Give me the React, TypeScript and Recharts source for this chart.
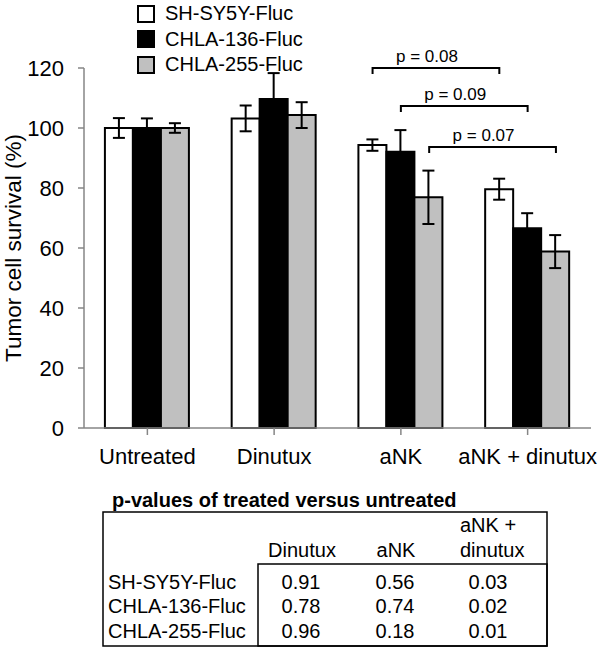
import { Bar, BarChart, ErrorBar, Legend, ReferenceLine, XAxis, YAxis } from "recharts";

const categories = ["Untreated", "Dinutux", "aNK", "aNK + dinutux"];
const seriesNames = ["SH-SY5Y-Fluc", "CHLA-136-Fluc", "CHLA-255-Fluc"];
const seriesFills = ["#ffffff", "#000000", "#c0c0c0"];

const shsy5y = [100, 103.2, 94.3, 79.6];
const shsy5yErr = [3.3, 4.3, 1.9, 3.5];
const chla136 = [100, 109.7, 92.1, 66.6];
const chla136Err = [3.2, 8.6, 7.2, 5];
const chla255 = [100, 104.3, 76.9, 58.8];
const chla255Err = [1.6, 4.3, 8.9, 5.5];

const yTicks = [0, 20, 40, 60, 80, 100, 120];

// significance brackets: from one group to another, same series
const brackets = [
  { from: 2, to: 3, series: 0, y: 120, label: "p = 0.08" },
  { from: 2, to: 3, series: 1, y: 107.3, label: "p = 0.09" },
  { from: 2, to: 3, series: 2, y: 93.7, label: "p = 0.07" },
];

const tableTitle = "p-values of treated versus untreated";
const tableColumns = ["Dinutux", "aNK", "aNK + dinutux"];
const tableRows = ["SH-SY5Y-Fluc", "CHLA-136-Fluc", "CHLA-255-Fluc"];
const pValues = [
  ["0.91", "0.56", "0.03"],
  ["0.78", "0.74", "0.02"],
  ["0.96", "0.18", "0.01"],
];

const data = categories.map((category, i) => ({
  category,
  s0: shsy5y[i],
  e0: shsy5yErr[i],
  s1: chla136[i],
  e1: chla136Err[i],
  s2: chla255[i],
  e2: chla255Err[i],
}));

const FONT = "'Liberation Sans', Arial, sans-serif";
const AXIS = "#868686";
const CAT_GAP = 0.165;
const barFrac = (1 - 2 * CAT_GAP) / 3;

function Bracket({ x1, y1, x2, bracket }: any) {
  // x1/x2 are the category centres; shift to the matching bar centre
  const band = (x2 - x1) / (bracket.to - bracket.from);
  const off = (bracket.series - 1) * barFrac * band;
  const a = x1 + off;
  const b = x2 + off;
  return (
    <g>
      <path d={`M${a},${y1 + 6}V${y1}H${b}V${y1 + 6}`} fill="none" stroke="#000" strokeWidth={2} />
      <text x={(a + b) / 2 - 9} y={y1 - 6} textAnchor="middle" fontSize={17} fontFamily={FONT} fill="#000">
        {bracket.label}
      </text>
    </g>
  );
}

function LegendBox({ payload }: any) {
  const items = [...(payload || [])].sort(
    (a: any, b: any) => seriesNames.indexOf(a.value) - seriesNames.indexOf(b.value)
  );
  return (
    <div style={{ fontFamily: FONT, fontSize: 20, color: "#000" }}>
      {items.map((p: any) => (
        <div key={p.value} style={{ display: "flex", alignItems: "center", height: 25.5 }}>
          <span
            style={{
              display: "inline-block",
              width: 14,
              height: 14,
              background: p.color,
              border: "2px solid #000",
              marginRight: 10,
            }}
          />
          <span>{p.value}</span>
        </div>
      ))}
    </div>
  );
}

function PTable() {
  const colX = [301, 395, 488];
  const rowY = [119, 143, 168];
  return (
    <svg width={600} height={177} style={{ position: "absolute", left: 0, top: 470 }}>
      <g fontFamily={FONT} fill="#000">
        <text x={112} y={37} fontSize={20} fontWeight="bold">{tableTitle}</text>
        <rect x={103} y={42} width={444} height={134} fill="none" stroke="#000" strokeWidth={1.5} />
        <rect x={258} y={94} width={289} height={82} fill="none" stroke="#000" strokeWidth={1.5} />
        <g fontSize={20}>
          <text x={302} y={87} textAnchor="middle">{tableColumns[0]}</text>
          <text x={396} y={87} textAnchor="middle">{tableColumns[1]}</text>
          <text x={460} y={62}>{tableColumns[2].replace(" dinutux", "")}</text>
          <text x={460} y={87}>{tableColumns[2].split(" + ")[1]}</text>
          {tableRows.map((r, i) => (
            <g key={r}>
              <text x={108} y={rowY[i]}>{r}</text>
              {pValues[i].map((v, j) => (
                <text key={j} x={colX[j]} y={rowY[i]} textAnchor="middle">
                  {v}
                </text>
              ))}
            </g>
          ))}
        </g>
      </g>
    </svg>
  );
}

export default function App() {
  return (
    <div style={{ position: "absolute", left: 0, top: 0, width: 600, height: 647, background: "#fff" }}>
      <BarChart
        width={600}
        height={470}
        data={data}
        margin={{ top: 68, right: 9, bottom: 0, left: 0 }}
        barCategoryGap={`${CAT_GAP * 100}%`}
        barGap={0}
        style={{ fontFamily: FONT }}
      >
        <XAxis
          dataKey="category"
          height={42}
          tickSize={7}
          tickMargin={13}
          tick={{ fontSize: 22, fill: "#000" }}
          tickLine={{ stroke: AXIS, strokeWidth: 1.5 }}
          axisLine={{ stroke: AXIS, strokeWidth: 1.5 }}
          interval={0}
        />
        <YAxis
          domain={[0, 120]}
          ticks={yTicks}
          width={84}
          tickSize={6}
          tickMargin={14}
          tick={{ fontSize: 22, fill: "#000" }}
          tickLine={{ stroke: AXIS, strokeWidth: 1.5 }}
          axisLine={{ stroke: AXIS, strokeWidth: 1.5 }}
          label={({ viewBox }: any) => (
            <text
              x={0}
              y={0}
              transform={`translate(13, ${viewBox.y + viewBox.height / 2}) rotate(-90)`}
              textAnchor="middle"
              dominantBaseline="central"
              fontSize={22.5}
              fontFamily={FONT}
              fill="#000"
            >
              Tumor cell survival (%)
            </text>
          )}
        />
        <Legend
          layout="vertical"
          align="center"
          verticalAlign="middle"
          content={<LegendBox />}
          wrapperStyle={{ left: 137, top: 1, width: "auto", height: "auto" }}
        />
        {seriesNames.map((name, s) => (
          <Bar
            key={name}
            dataKey={`s${s}`}
            name={name}
            fill={seriesFills[s]}
            stroke="#000"
            strokeWidth={2}
            isAnimationActive={false}
          >
            <ErrorBar dataKey={`e${s}`} width={6} stroke="#000" strokeWidth={2} />
          </Bar>
        ))}
        {brackets.map((b, i) => (
          <ReferenceLine
            key={i}
            segment={[
              { x: categories[b.from], y: b.y },
              { x: categories[b.to], y: b.y },
            ]}
            ifOverflow="visible"
            shape={(p: any) => <Bracket {...p} bracket={b} />}
          />
        ))}
      </BarChart>
      <PTable />
    </div>
  );
}
